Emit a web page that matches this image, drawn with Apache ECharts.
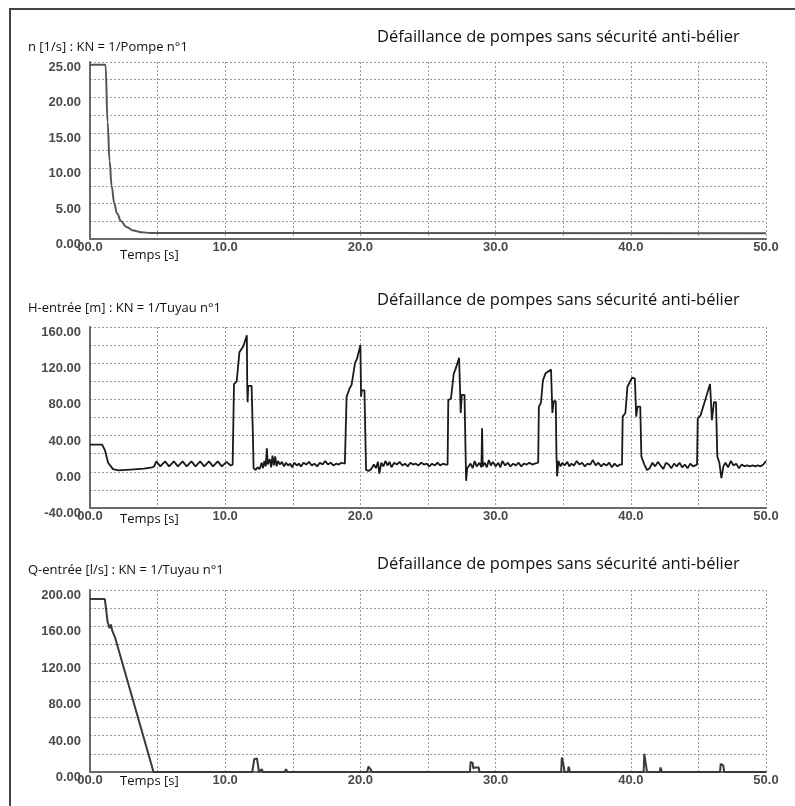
<!DOCTYPE html>
<html><head><meta charset="utf-8">
<script src="https://cdn.jsdelivr.net/npm/echarts@6/dist/echarts.min.js"></script>
<style>html,body{margin:0;padding:0;background:#fff}#c{width:795px;height:806px}</style>
</head><body><div id="c"></div>
<script>
// ---- data ----
const titleRight = 'Défaillance de pompes sans sécurité anti-bélier';
const titlesLeft = ['n [1/s] : KN = 1/Pompe n°1', 'H-entrée [m] : KN = 1/Tuyau n°1', 'Q-entrée [l/s] : KN = 1/Tuyau n°1'];
const xAxisName = 'Temps [s]';
// pump speed n [1/s] vs time [s]
const nSeries = [[0,24.6],[1.15,24.6],[1.3,16.5],[1.45,11],[1.6,7.5],[1.8,5],[2.0,3.6],[2.3,2.5],[2.7,1.7],[3.2,1.2],[3.8,0.95],[4.5,0.85],[50,0.8]];
// head at inlet H [m] vs time [s]
const hSeries = [[0,30],[0.9,30],[1.1,24],[1.34,10],[1.7,3],[2.1,1.5],[3,2.5],[4,3.5],[4.6,5],
[4.75,6],[4.9,11.5],[5.2,6],[5.55,11.5],[5.85,6],[6.2,11.5],[6.5,6],[6.85,11.5],[7.15,6],[7.5,11.5],[7.8,6],[8.15,11.5],[8.45,6],[8.8,11.5],[9.1,6],[9.45,11.5],[9.75,6],[10.1,11],[10.4,7],[10.55,8],
[10.65,97],[10.85,100],[11.05,132],[11.35,139],[11.6,151],[11.63,93],[11.66,77],[11.7,95],[11.95,95],[12.05,40],[12.1,4],
[12.25,2],[12.4,5],[12.55,3],[12.7,10],[12.8,4],[12.9,12],[13.0,6],[13.08,26],[13.15,8],[13.3,14],[13.4,5],[13.5,18],[13.6,7],[13.7,17],[13.8,6],[13.9,12],[14.05,8],[14.2,11],[14.35,6],[14.5,10],[14.65,7],[14.8,9],[14.95,5],[15.1,10],[15.3,7],[15.45,9],[15.6,6],[15.8,10],[16.0,8],[16.2,11],[16.4,7],[16.6,9],[16.8,6],[17.0,10],[17.2,8],[17.4,12],[17.6,8],[17.8,10],[18.0,7],[18.2,9],[18.4,8],[18.6,10],[18.85,9],
[18.98,83],[19.2,92],[19.35,96],[19.6,120],[19.75,125],[20.0,140],[20.05,83],[20.1,90],[20.3,90],[20.38,30],[20.42,2],
[20.6,1],[20.8,3],[21.0,8],[21.15,4],[21.3,11],[21.4,-2],[21.55,10],[21.7,6],[21.85,12],[22.0,7],[22.15,11],[22.3,5],[22.5,10],[22.7,8],[22.9,11],[23.1,7],[23.3,9],[23.5,6],[23.7,10],[23.9,8],[24.1,9],[24.3,7],[24.5,10],[24.7,8],[24.9,9],[25.1,6],[25.3,9],[25.5,7],[25.7,10],[25.9,7],[26.1,9],[26.3,8],[26.45,8],
[26.5,79],[26.7,81],[26.9,108],[27.05,114],[27.3,126],[27.42,65],[27.5,85],[27.7,85],[27.78,20],[27.82,-10],[27.9,4],
[28.0,2],[28.15,9],[28.3,4],[28.45,12],[28.6,6],[28.8,10],[28.95,5],[29.0,48],[29.05,6],[29.2,10],[29.35,5],[29.5,13],[29.65,7],[29.8,11],[30.0,6],[30.2,10],[30.35,5],[30.5,12],[30.7,7],[30.9,10],[31.1,6],[31.3,9],[31.5,7],[31.7,10],[31.9,6],[32.1,9],[32.3,8],[32.5,10],[32.7,8],[32.9,9],[33.15,10],
[33.2,72],[33.35,76],[33.5,101],[33.7,109],[34.1,113],[34.2,65],[34.3,78],[34.45,78],[34.5,20],[34.55,-5],[34.65,12],
[34.8,6],[34.95,10],[35.1,7],[35.3,11],[35.45,6],[35.6,9],[35.8,7],[36.0,12],[36.2,8],[36.4,10],[36.6,6],[36.8,9],[37.0,8],[37.2,13],[37.4,7],[37.6,10],[37.8,6],[38.0,9],[38.2,7],[38.4,10],[38.6,5],[38.8,9],[39.0,6],[39.2,8],[39.35,8],
[39.4,61],[39.6,65],[39.75,94],[40.1,104],[40.3,103],[40.4,61],[40.5,72],[40.7,72],[40.78,17],[41.0,8],[41.2,2],
[41.4,4],[41.6,10],[41.8,6],[42.0,11],[42.2,7],[42.4,3],[42.6,10],[42.8,8],[43.0,4],[43.2,9],[43.4,6],[43.6,10],[43.8,5],[44.0,8],[44.2,4],[44.4,9],[44.6,6],[44.9,8],
[44.95,59],[45.15,62],[45.5,79],[45.86,97],[46.0,57],[46.15,77],[46.3,77],[46.4,17],[46.55,10],[46.7,-7],[46.85,6],
[47.0,10],[47.2,5],[47.4,12],[47.6,7],[47.8,9],[48.0,4],[48.2,8],[48.4,6],[48.6,7],[48.8,6],[49.0,7],[49.2,6],[49.4,7],[49.6,6],[49.8,8],[50,12]];
// flow at inlet Q [l/s] vs time [s]
const qSeries = [[0,190],[1.1,190],[1.3,165],[1.45,158],[1.55,162],[1.65,155],[1.85,148],[4.7,0],[12.0,0],[12.15,14],[12.35,15],[12.5,0],[12.7,3],[12.8,0],[14.4,0],[14.5,3],[14.6,0],[20.5,0],[20.6,6],[20.75,3],[20.85,0],[22.8,0],[22.9,2],[23.0,0],[28.1,0],[28.15,11],[28.3,10],[28.35,4],[28.5,5],[28.75,5],[28.8,0],[34.85,0],[34.9,16],[35.0,10],[35.1,0],[35.35,0],[35.4,6],[35.5,0],[40.95,0],[41.0,20],[41.1,10],[41.2,0],[42.15,0],[42.2,5],[42.3,0],[46.6,0],[46.65,9],[46.85,7],[46.9,0],[50,0]];
// axis ranges
const yRanges = [{min:0,max:25,interval:2.5,labelStep:5},{min:-40,max:160,interval:20,labelStep:40},{min:0,max:200,interval:20,labelStep:40}];
const xRange = {min:0,max:50,interval:5,labelStep:10};

// ---- layout ----
const grids = [{top:62,height:177},{top:327,height:181},{top:590,height:182}];
const leftTitleY = [50,311,573];
const rightTitleY = [40,303,567];
const tempsY = [258,522,784];

const chart = echarts.init(document.getElementById('c'), null, {renderer:'canvas'});
const lblFont = {fontFamily:'Liberation Sans, Arial, sans-serif', fontSize:13, fontWeight:'bold', color:'#4a4a4a'};
const gridLine = {show:true, lineStyle:{color:'#9a9a9a', width:1, type:[2,2]}};
const axisLine = {show:true, onZero:false, lineStyle:{color:'#6a6a6a', width:2}};

const option = {
  animation:false,
  grid: grids.map(g => ({left:90, right:29, top:g.top, height:g.height})),
  xAxis: grids.map((g,i) => ({
    type:'value', gridIndex:i, min:xRange.min, max:xRange.max, interval:xRange.interval,
    axisLine: axisLine, axisTick:{show:false}, splitLine: gridLine,
    axisLabel: Object.assign({margin:2, showMaxLabel:true, showMinLabel:true,
      formatter: v => (Math.abs(v % xRange.labelStep) < 1e-9) ? (v === 0 ? '00.0' : v.toFixed(1)) : ''}, lblFont)
  })),
  yAxis: yRanges.map((r,i) => ({
    type:'value', gridIndex:i, min:r.min, max:r.max, interval:r.interval,
    axisLine: axisLine, axisTick:{show:false}, splitLine: gridLine,
    axisLabel: Object.assign({margin:9, verticalAlign:'top', lineHeight:11,
      formatter: v => (Math.abs(v % r.labelStep) < 1e-9) ? v.toFixed(2) : ''}, lblFont)
  })),
  series: [
    {type:'line', xAxisIndex:0, yAxisIndex:0, data:nSeries, showSymbol:false, smooth:0.4, smoothMonotone:'x', lineStyle:{color:'#555', width:2}},
    {type:'line', xAxisIndex:1, yAxisIndex:1, data:hSeries, showSymbol:false, lineStyle:{color:'#1a1a1a', width:1.8}},
    {type:'line', xAxisIndex:2, yAxisIndex:2, data:qSeries, showSymbol:false, lineStyle:{color:'#3a3a3a', width:2}}
  ],
  graphic: [
    {type:'polyline', shape:{points:[[10,806],[10,9],[795,9]]}, style:{stroke:'#444', lineWidth:2, fill:null}, silent:true}
  ].concat(titlesLeft.map((t,i) => ({type:'text', left:28, top:leftTitleY[i]-9, style:{text:t, font:'13px "Open Sans", sans-serif', fill:'#111'}})))
   .concat(rightTitleY.map(y => ({type:'text', left:377, top:y-11, style:{text:titleRight, font:'16.5px "Open Sans", sans-serif', fill:'#111'}})))
   .concat(tempsY.map(y => ({type:'text', left:118, top:y-10, z:10, style:{text:xAxisName, font:'13px "Open Sans", sans-serif', fill:'#111', backgroundColor:'#fff', padding:[1,4,1,2]}})))
};
chart.setOption(option);
</script>
</body></html>
